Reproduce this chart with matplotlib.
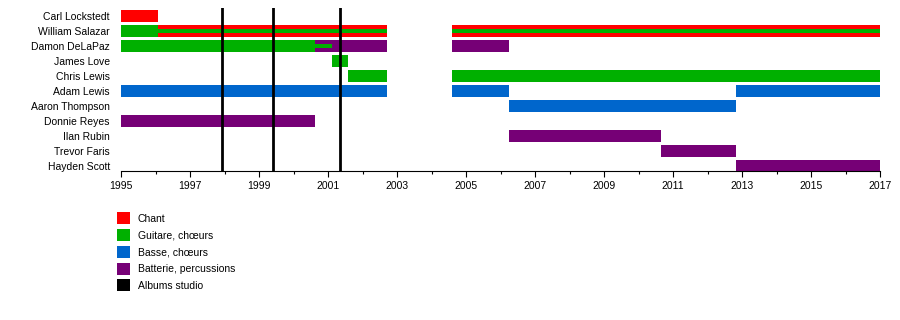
import matplotlib.pyplot as plt
from matplotlib.patches import Patch

plt.rcParams['font.family'] = ['Liberation Sans', 'DejaVu Sans']

members = ['Carl Lockstedt', 'William Salazar', 'Damon DeLaPaz', 'James Love',
           'Chris Lewis', 'Adam Lewis', 'Aaron Thompson', 'Donnie Reyes',
           'Ilan Rubin', 'Trevor Faris', 'Hayden Scott']

# (member, start, end) periods for each role
chant = [('Carl Lockstedt', 1995.0, 1996.07),
         ('William Salazar', 1996.07, 2002.71),
         ('William Salazar', 2004.6, 2017.0)]
guitare = [('William Salazar', 1995.0, 1996.07),
           ('Damon DeLaPaz', 1995.0, 2000.62),
           ('James Love', 2001.12, 2001.58),
           ('Chris Lewis', 2001.58, 2002.71),
           ('Chris Lewis', 2004.6, 2017.0)]
basse = [('Adam Lewis', 1995.0, 2002.71),
         ('Adam Lewis', 2004.6, 2006.25),
         ('Adam Lewis', 2012.83, 2017.0),
         ('Aaron Thompson', 2006.25, 2012.83)]
batterie = [('Damon DeLaPaz', 2000.62, 2002.71),
            ('Damon DeLaPaz', 2004.6, 2006.25),
            ('Donnie Reyes', 1995.0, 2000.62),
            ('Ilan Rubin', 2006.25, 2010.65),
            ('Trevor Faris', 2010.65, 2012.83),
            ('Hayden Scott', 2012.83, 2017.0)]
# secondary role shown as a thin line inside the main bar
guitare_second = [('William Salazar', 1996.07, 2002.71),
                  ('William Salazar', 2004.6, 2017.0),
                  ('Damon DeLaPaz', 2000.62, 2001.12)]
albums = [1997.93, 1999.41, 2001.35]

roles = ['Chant', 'Guitare, chœurs', 'Basse, chœurs', 'Batterie, percussions', 'Albums studio']
colors = ['#FF0000', '#00B000', '#0066CC', '#760076', '#000000']

fig = plt.figure(figsize=(9, 3.2), dpi=100)
ax = fig.add_axes([121 / 900, 1 - 171 / 320, 759 / 900, 163 / 320])

for periods, c in zip([chant, guitare, basse, batterie], colors):
    for name, start, end in periods:
        ax.barh(members.index(name), end - start, left=start, height=0.8,
                color=c, edgecolor='none')
for name, start, end in guitare_second:
    ax.barh(members.index(name), end - start, left=start, height=0.27,
            color=colors[1], edgecolor='none')

for yr in albums:
    ax.axvline(yr, color='black', linewidth=2, zorder=3)

ax.set_yticks(range(len(members)))
ax.set_yticklabels(members, fontsize=7.5)
ax.tick_params(axis='y', length=0, pad=8)
ax.set_ylim(len(members) - 1 + 0.333, -0.533)
ax.set_xlim(1995, 2017)
ax.set_xticks(range(1995, 2018, 2))
ax.set_xticks(range(1995, 2018), minor=True)
ax.tick_params(axis='x', which='major', length=4, width=0.8, labelsize=7.5, pad=3)
ax.tick_params(axis='x', which='minor', length=2.5, width=0.8)
for s in ['top', 'right', 'left']:
    ax.spines[s].set_visible(False)

handles = [Patch(facecolor=c, edgecolor='none', label=r) for c, r in zip(colors, roles)]
fig.legend(handles=handles, loc='upper left', bbox_to_anchor=(113 / 900, 1 - 208 / 320),
           frameon=False, fontsize=7.5, handlelength=1.2, handleheight=1.4,
           handletextpad=0.8, labelspacing=0.46, borderaxespad=0)

fig.savefig('out.png', dpi=100)
